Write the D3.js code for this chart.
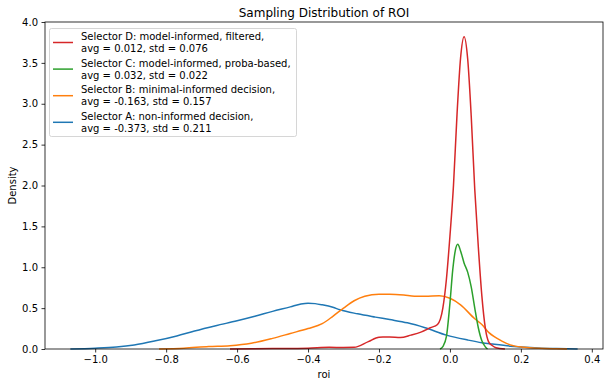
<!DOCTYPE html>
<html>
<head>
<meta charset="utf-8">
<script src="https://cdn.jsdelivr.net/npm/d3@7"></script>
<style>
  body { margin: 0; background: #fff; }
  svg { display: block; font-family: "DejaVu Sans", sans-serif; }
</style>
</head>
<body>
<div id="vis"></div>
<script>

// values
var roiA = [-1.07, -1.0, -0.94, -0.89, -0.83, -0.77, -0.72, -0.66, -0.6, -0.55, -0.5, -0.45, -0.42, -0.4, -0.38, -0.36, -0.33, -0.31, -0.26, -0.21, -0.17, -0.12, -0.07, -0.01, 0.05, 0.09, 0.12, 0.17, 0.2, 0.25, 0.3, 0.36];
var densA = [0, 0.01, 0.025, 0.05, 0.1, 0.16, 0.22, 0.285, 0.345, 0.4, 0.46, 0.515, 0.55, 0.56, 0.555, 0.54, 0.51, 0.48, 0.43, 0.39, 0.36, 0.32, 0.26, 0.17, 0.11, 0.077, 0.06, 0.035, 0.025, 0.012, 0.005, 0];

var roiB = [-0.82, -0.75, -0.68, -0.62, -0.56, -0.5, -0.45, -0.4, -0.36, -0.33, -0.3, -0.27, -0.24, -0.2, -0.17, -0.13, -0.1, -0.07, -0.03, 0.0, 0.03, 0.07, 0.09, 0.11, 0.125, 0.145, 0.17, 0.21, 0.25, 0.3, 0.33];
var densB = [0, 0.01, 0.03, 0.04, 0.07, 0.13, 0.19, 0.25, 0.31, 0.4, 0.5, 0.59, 0.645, 0.67, 0.67, 0.66, 0.645, 0.645, 0.65, 0.62, 0.54, 0.37, 0.3, 0.2, 0.15, 0.1, 0.05, 0.02, 0.008, 0.002, 0];

var roiC = [-0.028, -0.02, -0.01, 0.0, 0.008, 0.015, 0.022, 0.03, 0.04, 0.05, 0.06, 0.07, 0.08, 0.09, 0.1, 0.106];
var densC = [0, 0.03, 0.15, 0.56, 0.97, 1.2, 1.28, 1.2, 1.05, 0.94, 0.76, 0.5, 0.26, 0.1, 0.025, 0];

var roiD = [-0.62, -0.5, -0.4, -0.34, -0.3, -0.27, -0.23, -0.2, -0.17, -0.14, -0.11, -0.08, -0.055, -0.035, -0.02, -0.01, 0.0, 0.01, 0.02, 0.03, 0.04, 0.05, 0.06, 0.07, 0.08, 0.09, 0.1, 0.11, 0.12, 0.13, 0.155];
var densD = [0, 0.005, 0.01, 0.02, 0.018, 0.02, 0.09, 0.145, 0.146, 0.14, 0.17, 0.21, 0.26, 0.3, 0.5, 0.85, 1.38, 2.0, 2.87, 3.56, 3.82, 3.55, 2.85, 1.95, 1.25, 0.65, 0.25, 0.08, 0.04, 0.015, 0];

var labels = [
  ['Selector D: model-informed, filtered,', 'avg = 0.012, std = 0.076'],
  ['Selector C: model-informed, proba-based,', 'avg = 0.032, std = 0.022'],
  ['Selector B: minimal-informed decision,', 'avg = -0.163, std = 0.157'],
  ['Selector A: non-informed decision,', 'avg = -0.373, std = 0.211']
];
var xTicks = [-1.0, -0.8, -0.6, -0.4, -0.2, 0.0, 0.2, 0.4];
var yTicks = [0.0, 0.5, 1.0, 1.5, 2.0, 2.5, 3.0, 3.5, 4.0];

var width = 609, height = 387;
var margin = {top: 22, right: 6, bottom: 38, left: 45};

var svg = d3.select('#vis').append('svg')
  .attr('width', width)
  .attr('height', height);

var x = d3.scaleLinear().domain([-1.1415, 0.4315]).range([margin.left, width - margin.right]);
var y = d3.scaleLinear().domain([0, 4]).range([height - margin.bottom, margin.top]);

// series drawn A first so D ends on top
var series = [
  {x: roiA, d: densA, color: '#1f77b4'},
  {x: roiB, d: densB, color: '#ff7f0e'},
  {x: roiC, d: densC, color: '#2ca02c'},
  {x: roiD, d: densD, color: '#d62728'}
];

var line = d3.line()
  .x(function (p) { return x(p[0]); })
  .y(function (p) { return y(p[1]); })
  .curve(d3.curveMonotoneX);

svg.append('g').selectAll('path')
  .data(series)
  .enter().append('path')
  .attr('fill', 'none')
  .attr('stroke', function (s) { return s.color; })
  .attr('stroke-width', 1.5)
  .attr('d', function (s) { return line(d3.zip(s.x, s.d)); });

// axes
var xAxis = d3.axisBottom(x).tickValues(xTicks).tickFormat(d3.format('.1f')).tickSizeOuter(0).tickSize(3.5).tickPadding(3.5);
var yAxis = d3.axisLeft(y).tickValues(yTicks).tickFormat(d3.format('.1f')).tickSizeOuter(0).tickSize(3.5).tickPadding(3.5);

var gx = svg.append('g').attr('transform', 'translate(0,' + (height - margin.bottom) + ')').call(xAxis);
var gy = svg.append('g').attr('transform', 'translate(' + margin.left + ',0)').call(yAxis);

[gx, gy].forEach(function (g) {
  g.select('.domain').remove();
  g.selectAll('line').attr('stroke', '#000').attr('stroke-width', 0.8);
  g.selectAll('text').attr('fill', '#000').style('font-size', '10px').style('font-family', '"DejaVu Sans", sans-serif');
});
// minus sign like matplotlib
gx.selectAll('text').text(function (d) { return d < 0 ? '\u2212' + d3.format('.1f')(-d) : d3.format('.1f')(d); });

svg.append('rect')
  .attr('x', margin.left)
  .attr('y', margin.top)
  .attr('width', width - margin.left - margin.right)
  .attr('height', height - margin.top - margin.bottom)
  .attr('fill', 'none')
  .attr('stroke', '#000')
  .attr('stroke-width', 0.8);

// titles
svg.append('text')
  .attr('x', (margin.left + width - margin.right) / 2)
  .attr('y', 17)
  .attr('text-anchor', 'middle')
  .style('font-size', '12px')
  .text('Sampling Distribution of ROI');

svg.append('text')
  .attr('x', (margin.left + width - margin.right) / 2)
  .attr('y', 378)
  .attr('text-anchor', 'middle')
  .style('font-size', '10px')
  .text('roi');

svg.append('text')
  .attr('transform', 'translate(16,' + ((margin.top + height - margin.bottom) / 2) + ') rotate(-90)')
  .attr('text-anchor', 'middle')
  .style('font-size', '10px')
  .text('Density');

// legend
var legend = svg.append('g');
legend.append('rect')
  .attr('x', 49.5).attr('y', 28.5)
  .attr('width', 247).attr('height', 108)
  .attr('rx', 2)
  .attr('fill', '#fff').attr('fill-opacity', 0.8)
  .attr('stroke', '#cccccc').attr('stroke-width', 0.8);

var legendColors = ['#d62728', '#2ca02c', '#ff7f0e', '#1f77b4'];
var items = legend.selectAll('.item')
  .data(labels)
  .enter().append('g')
  .attr('class', 'item')
  .attr('transform', function (d, i) { return 'translate(0,' + (i * 26.6) + ')'; });

items.append('line')
  .attr('x1', 53).attr('x2', 73)
  .attr('y1', 42.5).attr('y2', 42.5)
  .attr('stroke', function (d, i) { return legendColors[i]; })
  .attr('stroke-width', 1.5);

items.append('text')
  .attr('x', 81)
  .attr('y', 40)
  .style('font-size', '10px')
  .text(function (d) { return d[0]; });

items.append('text')
  .attr('x', 81)
  .attr('y', 52)
  .style('font-size', '10px')
  .text(function (d) { return d[1]; });

</script>
</body>
</html>
